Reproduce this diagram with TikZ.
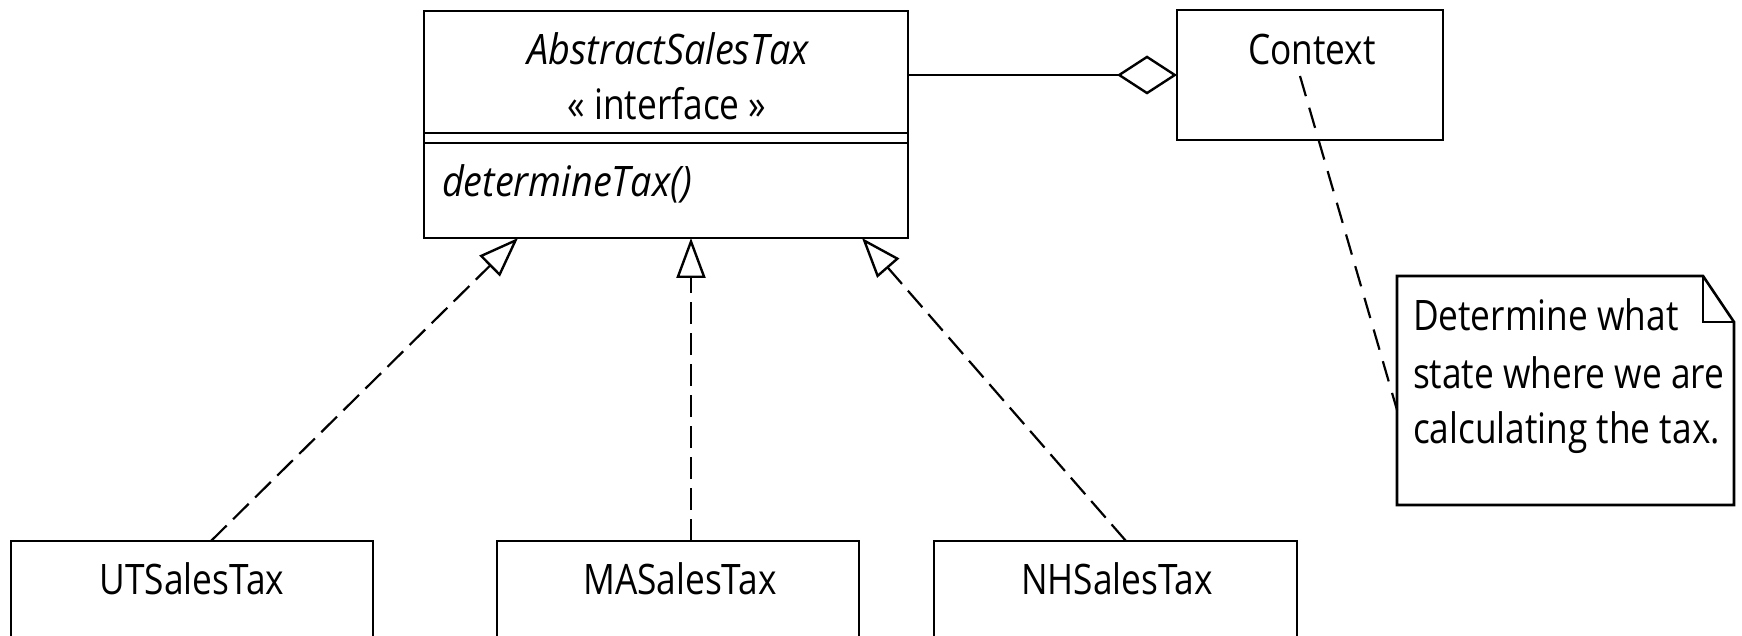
\documentclass[tikz,border=0pt]{standalone}
\usepackage{fontspec}
\setmainfont[FakeStretch=0.84]{Open Sans}
\newfontfamily\umlit[FakeStretch=0.9]{Open Sans}
\usetikzlibrary{arrows.meta}
\tikzset{
  umlbox/.style={draw, line width=2.6pt, inner sep=0pt, outer sep=0pt, anchor=north west},
  lbl/.style={inner sep=0pt, outer sep=0pt, font=\fontsize{42}{56}\selectfont},
  itlbl/.style={inner sep=0pt, outer sep=0pt, font=\umlit\fontsize{42}{56}\selectfont\itshape},
  realize/.style={line width=2.2pt, dash pattern=on 22pt off 9pt,
    -{Triangle[open, length=40pt, width=29pt, line width=2.4pt]}},
  aggr/.style={line width=2.6pt, -{Diamond[open, length=60pt, width=39pt, line width=2.4pt]}},
  anchorline/.style={line width=2.2pt, dash pattern=on 21pt off 12pt},
  notebox/.style={line width=2.6pt, line join=miter},
}
\begin{document}
\begin{tikzpicture}[x=1pt, y=-1pt]
  \clip (0,0) rectangle (1742,636);
  \useasboundingbox (0,0) rectangle (1742,636);
  \fill[white] (0,0) rectangle (1742,636);

  % AbstractSalesTax
  \node[umlbox, minimum width=484pt, minimum height=227pt] (abs) at (424,11) {};
  \draw[line width=2.6pt] (abs.west |- 0,133) coordinate (d1l) -- (abs.east |- 0,133) coordinate (d1r);
  \draw[line width=2.6pt] (abs.west |- 0,143) coordinate (d2l) -- (abs.east |- 0,143) coordinate (d2r);
  \node[itlbl, anchor=base] (absname) at (668,65) {AbstractSalesTax};
  \node[lbl, anchor=base] (absster) at (667,120) {« interface »};
  \node[itlbl, anchor=base west] (absop) at (442,197) {determineTax()};

  % Context
  \node[umlbox, minimum width=266pt, minimum height=130pt] (ctx) at (1177,10) {};
  \node[lbl, anchor=base] (ctxname) at (1312,65) {Context};

  % Note
  \coordinate (ntl) at (1397,276);
  \coordinate (nfa) at (1703,276);
  \coordinate (nfb) at (1734,322);
  \coordinate (nbr) at (1734,505);
  \coordinate (nbl) at (1397,505);
  \coordinate (nfc) at (1703,322);
  \draw[notebox] (ntl) -- (nfa) -- (nfb) -- (nbr) -- (nbl) -- cycle;
  \draw[notebox] (nfa) -- (nfc) -- (nfb);
  \node[lbl, anchor=base west] (note1) at (1413,330) {Determine what};
  \node[lbl, anchor=base west] (note2) at (1413,388) {state where we are};
  \node[lbl, anchor=base west] (note3) at (1413,443) {calculating the tax.};

  % Concrete classes
  \node[umlbox, minimum width=362pt, minimum height=130pt] (ut) at (11,541) {};
  \node[umlbox, minimum width=362pt, minimum height=130pt] (ma) at (497,541) {};
  \node[umlbox, minimum width=363pt, minimum height=130pt] (nh) at (934,541) {};
  \node[lbl, anchor=base] (utname) at (192,594) {UTSalesTax};
  \node[lbl, anchor=base] (maname) at (680,594) {MASalesTax};
  \node[lbl, anchor=base] (nhname) at (1117,594) {NHSalesTax};

  % Connectors
  \draw[aggr] (abs.east |- ctx.west) -- (ctx.west);
  \coordinate (ctxa) at (1300,76);
  \coordinate (notea) at (1397,410);
  \draw[anchorline] (ctxa) -- (notea);
  \draw[realize] ([xshift=200pt]ut.north west) -- ([xshift=94pt]abs.south west);
  \draw[realize] ([xshift=194pt]ma.north west) -- ([xshift=267pt]abs.south west);
  \draw[realize] ([xshift=192pt]nh.north west) -- ([xshift=438pt]abs.south west);
\end{tikzpicture}
\end{document}
